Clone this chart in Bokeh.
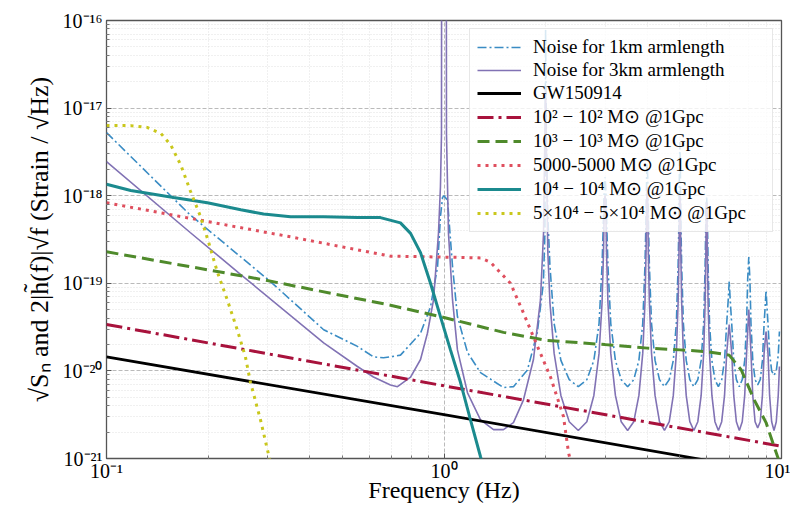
from bokeh.plotting import figure
from bokeh.models import Range1d, CustomJSTickFormatter, FixedTicker
from bokeh.embed import file_html
from bokeh.resources import INLINE

# ---------------- data (frequency in Hz, amplitude as log10 of strain/sqrt(Hz)) ----------------
noise_1km_f = [0.100, 0.177, 0.306, 0.440, 0.554, 0.618, 0.662, 0.694, 0.743, 0.852, 0.912, 0.957, 0.976, 0.990, 1.000,
               1.024, 1.060, 1.096, 1.174, 1.283, 1.500, 1.606, 1.767, 1.890, 1.970, 1.990, 2.000,
               2.010, 2.030, 2.060, 2.120, 2.220, 2.350, 2.500, 2.650, 2.780, 2.880, 2.940, 2.970, 2.985, 3.000,
               3.015, 3.030, 3.060, 3.120, 3.220, 3.350, 3.500, 3.650, 3.780, 3.880, 3.940, 3.970, 3.985, 4.000,
               4.015, 4.030, 4.060, 4.120, 4.220, 4.350, 4.500, 4.650, 4.780, 4.880, 4.940, 4.970, 4.985, 5.000,
               5.015, 5.030, 5.060, 5.120, 5.220, 5.350, 5.500, 5.650, 5.780, 5.880, 5.940, 5.970, 5.985, 6.000,
               6.015, 6.030, 6.060, 6.120, 6.220, 6.350, 6.500, 6.650, 6.780, 6.880, 6.950, 7.000,
               7.050, 7.120, 7.220, 7.350, 7.500, 7.650, 7.780, 7.880, 7.940, 8.000,
               8.060, 8.120, 8.220, 8.350, 8.500, 8.650, 8.780, 8.880, 8.950, 9.000,
               9.050, 9.120, 9.220, 9.350, 9.500, 9.650, 9.780, 9.860]
noise_1km_log = [-17.28, -18.22, -18.98, -19.53, -19.72, -19.84, -19.85, -19.84, -19.82, -19.57, -19.27, -18.81, -18.24, -18.02, -18.00,
                 -18.05, -18.81, -19.38, -19.79, -20.02, -20.19, -20.18, -19.99, -19.56, -19.00, -18.43, -16.10,
                 -17.30, -18.23, -18.80, -19.46, -19.88, -20.10, -20.18, -20.10, -19.88, -19.46, -18.80, -18.23, -17.90, -17.79,
                 -17.90, -18.23, -18.80, -19.46, -19.88, -20.10, -20.18, -20.10, -19.88, -19.46, -18.80, -18.23, -17.80, -17.63,
                 -17.80, -18.23, -18.80, -19.46, -19.88, -20.10, -20.18, -20.10, -19.88, -19.46, -18.80, -18.23, -17.65, -17.39,
                 -17.65, -18.23, -18.80, -19.46, -19.88, -20.10, -20.18, -20.10, -19.88, -19.46, -18.80, -18.23, -18.10, -18.02,
                 -18.10, -18.23, -18.80, -19.46, -19.88, -20.10, -20.18, -20.10, -19.88, -19.46, -19.20, -18.98,
                 -19.20, -19.46, -19.88, -20.10, -20.18, -20.10, -19.88, -19.46, -18.95, -18.70,
                 -18.95, -19.46, -19.88, -20.10, -20.16, -20.10, -19.88, -19.46, -19.25, -19.08,
                 -19.25, -19.46, -19.80, -20.00, -20.05, -20.00, -19.82, -19.55]

noise_3km_f = [0.100, 0.177, 0.250, 0.440, 0.554, 0.618, 0.694, 0.728, 0.796, 0.852, 0.893, 0.931, 0.963, 0.976, 0.983, 0.984,
               1.016, 1.017, 1.031, 1.060, 1.096, 1.174, 1.283, 1.402, 1.500, 1.606, 1.720, 1.841, 1.931, 1.972, 1.990, 2.000,
               2.010, 2.030, 2.060, 2.120, 2.220, 2.350, 2.500, 2.650, 2.780, 2.880, 2.940, 2.970, 2.985, 3.000,
               3.015, 3.030, 3.060, 3.120, 3.220, 3.350, 3.500, 3.650, 3.780, 3.880, 3.940, 3.970, 3.985, 4.000,
               4.015, 4.030, 4.060, 4.120, 4.220, 4.350, 4.500, 4.650, 4.780, 4.880, 4.940, 4.970, 4.985, 5.000,
               5.015, 5.030, 5.060, 5.120, 5.220, 5.350, 5.500, 5.650, 5.780, 5.880, 5.940, 5.970, 5.985, 6.000,
               6.015, 6.030, 6.060, 6.120, 6.220, 6.350, 6.500, 6.650, 6.780, 6.880, 6.950, 7.000,
               7.050, 7.120, 7.220, 7.350, 7.500, 7.650, 7.780, 7.880, 7.950, 8.000,
               8.050, 8.120, 8.220, 8.350, 8.500, 8.650, 8.780, 8.880, 8.950, 9.000,
               9.050, 9.120, 9.220, 9.350, 9.500, 9.650, 9.780, 9.860]
noise_3km_log = [-17.61, -18.42, -18.90, -19.68, -19.95, -20.07, -20.16, -20.18, -20.07, -19.87, -19.57, -19.19, -18.43, -17.90, -17.30, -15.00,
                 -15.00, -17.29, -18.43, -19.19, -19.76, -20.25, -20.56, -20.67, -20.67, -20.59, -20.33, -19.87, -19.19, -18.43, -17.30, -16.80,
                 -17.40, -18.63, -19.22, -19.80, -20.28, -20.58, -20.68, -20.58, -20.28, -19.80, -19.22, -18.63, -18.08, -18.00,
                 -18.08, -18.63, -19.22, -19.80, -20.28, -20.58, -20.68, -20.58, -20.28, -19.80, -19.22, -18.63, -18.08, -17.90,
                 -18.08, -18.63, -19.22, -19.80, -20.28, -20.58, -20.68, -20.58, -20.28, -19.80, -19.22, -18.63, -18.08, -18.00,
                 -18.08, -18.63, -19.22, -19.80, -20.28, -20.58, -20.68, -20.58, -20.28, -19.80, -19.22, -18.63, -18.08, -18.10,
                 -18.08, -18.63, -19.22, -19.80, -20.28, -20.58, -20.68, -20.58, -20.28, -19.80, -19.60, -19.47,
                 -19.60, -19.80, -20.28, -20.58, -20.68, -20.58, -20.28, -19.80, -19.50, -19.30,
                 -19.50, -19.80, -20.28, -20.58, -20.65, -20.58, -20.28, -19.80, -19.65, -19.55,
                 -19.65, -19.80, -20.28, -20.58, -20.68, -20.58, -20.28, -19.95]

gw150914_f = [0.1, 1.0, 10.0]
gw150914_log = [-19.84, -20.50, -21.17]

m100_f = [0.1, 1.0, 10.0]
m100_log = [-19.47, -20.17, -20.86]

m1000_f = [0.100, 0.292, 0.694, 1.000, 1.500, 2.000, 3.000, 4.000, 5.000, 6.000, 7.000, 7.600, 8.300, 9.000, 9.500, 9.800, 10.000]
m1000_log = [-18.64, -18.96, -19.25, -19.39, -19.56, -19.65, -19.70, -19.74, -19.76, -19.78, -19.82, -19.99, -20.33, -20.59, -20.86, -21.01, -21.20]

m5000_f = [0.100, 0.190, 0.351, 0.694, 0.976, 1.283, 1.373, 1.574, 1.720, 1.892, 2.068, 2.259, 2.338, 2.403]
m5000_log = [-18.08, -18.28, -18.47, -18.69, -18.70, -18.71, -18.76, -19.00, -19.34, -19.72, -20.07, -20.52, -20.93, -21.13]

m10000_f = [0.100, 0.118, 0.158, 0.199, 0.250, 0.292, 0.351, 0.440, 0.554, 0.648, 0.743, 0.796, 0.852, 0.912, 0.976,
            1.045, 1.119, 1.198, 1.283, 1.320]
m10000_log = [-17.87, -17.94, -18.02, -18.08, -18.16, -18.21, -18.24, -18.24, -18.25, -18.25, -18.31, -18.43, -18.65, -19.00, -19.38,
              -19.76, -20.13, -20.56, -20.98, -21.15]

m50000_f = [0.100, 0.118, 0.132, 0.145, 0.155, 0.166, 0.177, 0.190, 0.201, 0.213, 0.228, 0.244, 0.258, 0.267, 0.286, 0.304, 0.310]
m50000_log = [-17.20, -17.20, -17.22, -17.29, -17.42, -17.65, -17.94, -18.24, -18.54, -18.87, -19.19, -19.53, -19.84, -20.13, -20.56, -21.00, -21.10]

x_ticks = [0.1, 1, 10]
x_minor = [0.2, 0.3, 0.4, 0.5, 0.6, 0.7, 0.8, 0.9, 2, 3, 4, 5, 6, 7, 8, 9]
y_ticks = [1e-21, 1e-20, 1e-19, 1e-18, 1e-17, 1e-16]
y_minor = [k * 10.0 ** e for e in range(-21, -16) for k in range(2, 10)]

legend_labels = ["Noise for 1km armlength", "Noise for 3km armlength", "GW150914",
                 "10² − 10² M⊙ @1Gpc", "10³ − 10³ M⊙ @1Gpc", "5000-5000 M⊙ @1Gpc",
                 "10⁴ − 10⁴ M⊙ @1Gpc", "5×10⁴ − 5×10⁴ M⊙ @1Gpc"]


def lin(vals):
    return [10.0 ** v for v in vals]


SERIF = "Liberation Serif"

p = figure(width=790, height=505, x_axis_type="log", y_axis_type="log",
           x_range=Range1d(0.1, 10), y_range=Range1d(1e-21, 1e-16),
           output_backend="svg", toolbar_location=None,
           min_border_left=106, min_border_right=9, min_border_top=20, min_border_bottom=46)

p.background_fill_color = "white"
p.border_fill_color = "white"
p.outline_line_color = "#555555"
p.outline_line_width = 1.3

sup = CustomJSTickFormatter(code="""
const m = {'-':'\u207b','0':'\u2070','1':'\u00b9','2':'\u00b2','3':'\u00b3','4':'\u2074','5':'\u2075','6':'\u2076','7':'\u2077','8':'\u2078','9':'\u2079'};
const e = Math.round(Math.log10(tick));
return '10' + String(e).split('').map(c => m[c]).join('');
""")

p.xaxis[0].ticker = FixedTicker(ticks=x_ticks, minor_ticks=x_minor)
p.yaxis[0].ticker = FixedTicker(ticks=y_ticks, minor_ticks=y_minor)

for ax in (p.xaxis[0], p.yaxis[0]):
    ax.formatter = sup
    ax.major_label_text_font = SERIF
    ax.major_label_text_font_size = "20px"
    ax.major_label_text_color = "black"
    ax.axis_label_text_font = SERIF
    ax.axis_label_text_font_style = "normal"
    ax.axis_label_text_color = "black"
    ax.axis_line_color = None
    ax.major_tick_in = 5
    ax.major_tick_out = 0
    ax.minor_tick_in = 3
    ax.minor_tick_out = 0
    ax.major_tick_line_color = "#555555"
    ax.minor_tick_line_color = "#777777"

p.xaxis.axis_label = "Frequency (Hz)"
p.xaxis.axis_label_text_font_size = "24px"
p.xaxis.major_label_standoff = 1
p.xaxis.axis_label_standoff = -8
p.yaxis.axis_label = "√Sₙ and 2|h̃(f)|√f (Strain / √Hz)"
p.yaxis.axis_label_text_font_size = "26px"
p.yaxis.major_label_standoff = 4
p.yaxis.axis_label_standoff = 6

for g in (p.xgrid[0], p.ygrid[0]):
    g.grid_line_color = "#a8a8a8"
    g.grid_line_dash = "4 2"
    g.grid_line_width = 0.8
    g.minor_grid_line_color = "#d8d8d8"
    g.minor_grid_line_dash = "1 2"
    g.minor_grid_line_width = 0.8

p.line(noise_1km_f, lin(noise_1km_log), line_color="#3a8cc4", line_width=1.6, line_dash="9 3 2 3",
       legend_label=legend_labels[0])
p.line(noise_3km_f, lin(noise_3km_log), line_color="#8172b4", line_width=1.6,
       legend_label=legend_labels[1])
p.line(gw150914_f, lin(gw150914_log), line_color="black", line_width=2.8,
       legend_label=legend_labels[2])
p.line(m100_f, lin(m100_log), line_color="#a8123c", line_width=3, line_dash="16 5 3 5",
       legend_label=legend_labels[3])
p.line(m1000_f, lin(m1000_log), line_color="#4f8a2b", line_width=3, line_dash="12 6",
       legend_label=legend_labels[4])
p.line(m5000_f, lin(m5000_log), line_color="#df4f5e", line_width=3, line_dash="3 5",
       legend_label=legend_labels[5])
p.line(m10000_f, lin(m10000_log), line_color="#1b8a8e", line_width=3,
       legend_label=legend_labels[6])
p.line(m50000_f, lin(m50000_log), line_color="#c9c71c", line_width=3, line_dash="3 5",
       legend_label=legend_labels[7])

lg = p.legend[0]
lg.location = "top_right"
lg.margin = 8
lg.padding = 7
lg.spacing = 1
lg.label_height = 22
lg.label_width = 232
lg.glyph_height = 22
lg.glyph_width = 44
lg.label_standoff = 12
lg.label_text_font = SERIF
lg.label_text_font_size = "19px"
lg.label_text_color = "black"
lg.background_fill_color = "white"
lg.background_fill_alpha = 0.8
lg.border_line_color = "#d0d0d0"
lg.border_line_width = 1

open("out.html", "w").write(file_html(p, INLINE))
